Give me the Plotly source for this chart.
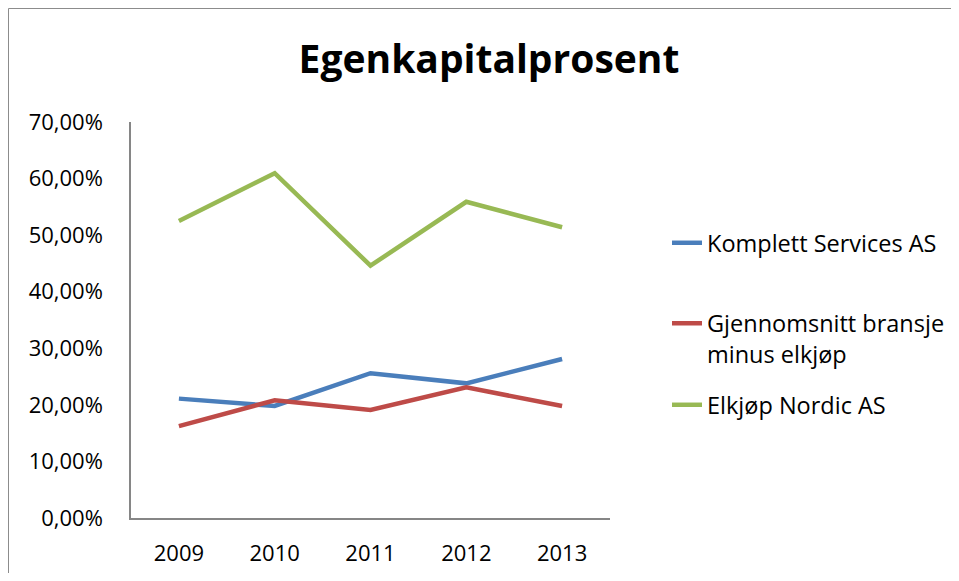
import plotly.graph_objects as go

years = ["2009", "2010", "2011", "2012", "2013"]
komplett = [0.211, 0.198, 0.256, 0.238, 0.281]
bransje = [0.1625, 0.208, 0.191, 0.231, 0.198]
elkjop = [0.525, 0.6095, 0.446, 0.559, 0.514]
series_names = ["Komplett Services AS", "Gjennomsnitt bransje<br>minus elkjøp", "Elkjøp Nordic AS"]
colors = ["#4a7ebb", "#be4b48", "#98b954"]
y_ticks = [0, 0.1, 0.2, 0.3, 0.4, 0.5, 0.6, 0.7]

FONT = "Open Sans"
OFF = 8  # page body margin offset

W, H = 959 - 2 * OFF, 581 - 2 * OFF
plot_x0, plot_x1 = 131 - OFF, 610 - OFF
plot_y0, plot_y1 = 122 - OFF, 518 - OFF
l, r, t, b = plot_x0, W - plot_x1, plot_y0, H - plot_y1
pw, ph = plot_x1 - plot_x0, plot_y1 - plot_y0

def px_x(px):
    return (px - OFF - plot_x0) / pw

def px_y(py):
    return (plot_y1 - (py - OFF)) / ph

legend_ids = ["legend", "legend2", "legend3"]
legend_centers = [243, 339, 405]

fig = go.Figure()
for name, vals, col, lid in zip(series_names, [komplett, bransje, elkjop], colors, legend_ids):
    fig.add_trace(go.Scatter(
        x=years, y=vals, mode="lines", name=name, legend=lid,
        line=dict(color=col, width=4.5),
    ))

leg_common = dict(xanchor="left", yanchor="middle", valign="top",
                  xref="container", yref="container",
                  font=dict(family=FONT, size=23.5, color="black"),
                  bgcolor="rgba(0,0,0,0)")

fig.update_layout(
    width=W, height=H,
    margin=dict(l=l, r=r, t=t, b=b, autoexpand=False),
    paper_bgcolor="white", plot_bgcolor="white",
    separators=",.",
    font=dict(family=FONT, size=22, color="black"),
    title=dict(text="<b>Egenkapitalprosent</b>", x=(489 - OFF) / W, xanchor="center",
               y=1 - (59 - OFF) / H, yanchor="middle", yref="container",
               font=dict(family=FONT, size=39, color="black")),
    showlegend=True,
    legend=dict(x=(667 - OFF) / W, y=1 - (legend_centers[0] - OFF) / H, **leg_common),
    legend2=dict(x=(667 - OFF) / W, y=1 - (legend_centers[1] - OFF) / H, **leg_common),
    legend3=dict(x=(667 - OFF) / W, y=1 - (legend_centers[2] - OFF) / H, **leg_common),
    xaxis=dict(type="category", range=[-0.5, 4.5], showgrid=False, showline=True,
               linecolor="#868686", linewidth=1.5, ticks="", ticklabelstandoff=15,
               zeroline=False, automargin=False),
    yaxis=dict(range=[0, 0.7], tickvals=y_ticks, tickformat=".2%", showgrid=False,
               showline=True, linecolor="#868686", linewidth=1.5, ticks="",
               ticklabelstandoff=22, zeroline=False, automargin=False),
)

# chart-area border (top and left edges visible in the reference)
fig.add_shape(type="line", xref="paper", yref="paper",
              x0=px_x(OFF + 0.5), x1=px_x(OFF + W), y0=px_y(OFF + 0.5), y1=px_y(OFF + 0.5),
              line=dict(color="#8c8c8c", width=1), layer="below")
fig.add_shape(type="line", xref="paper", yref="paper",
              x0=px_x(OFF + 0.5), x1=px_x(OFF + 0.5), y0=px_y(OFF + 0.5), y1=px_y(OFF + H),
              line=dict(color="#8c8c8c", width=1), layer="below")

fig.write_html("out.html", config={"displayModeBar": False})
